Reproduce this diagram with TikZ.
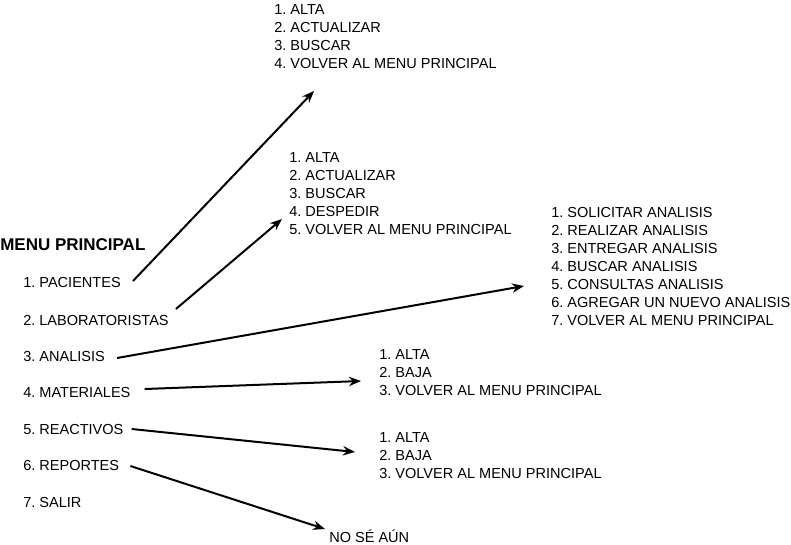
\documentclass[tikz,border=0pt]{standalone}
\usepackage{fontspec}
\setmainfont{Liberation Sans}
\usetikzlibrary{arrows.meta,calc}
\frenchspacing

\begin{document}
\begin{tikzpicture}[
    x=0.75pt, y=-0.75pt,
    opcion/.style={anchor=west,inner sep=0pt,font=\fontsize{10.9}{13.5}\selectfont},
    submenu/.style={opcion,align=left},
    flecha/.style={-{Stealth[length=9pt,width=7pt]},line width=1.5pt}
    ]
    \useasboundingbox (0,0) rectangle (791,545);

    \node (titulo) at (0, 245) [opcion,font=\bfseries\fontsize{12.75}{15}\selectfont] {MENU PRINCIPAL};
    \node (pac) at (23, 282) [opcion] {1. PACIENTES};
    \node (lab) at (23, 320) [opcion] {2. LABORATORISTAS};
    \node (ana) at (23, 356) [opcion] {3. ANALISIS};
    \node (mat) at (23, 392) [opcion] {4. MATERIALES};
    \node (rea) at (23, 429) [opcion] {5. REACTIVOS};
    \node (rep) at (23, 465) [opcion] {6. REPORTES};
    \node (sal) at (23, 502) [opcion] {7. SALIR};

    \node (mpac) at (274, 37) [submenu] {1. ALTA\\2. ACTUALIZAR\\3. BUSCAR\\4. VOLVER AL MENU PRINCIPAL};
    \node (mlab) at (289, 194) [submenu] {1. ALTA\\2. ACTUALIZAR\\3. BUSCAR\\4. DESPEDIR\\5. VOLVER AL MENU PRINCIPAL};
    \node (mana) at (551, 266) [submenu] {1. SOLICITAR ANALISIS\\2. REALIZAR ANALISIS\\3. ENTREGAR ANALISIS\\4. BUSCAR ANALISIS\\5. CONSULTAS ANALISIS\\6. AGREGAR UN NUEVO ANALISIS\\7. VOLVER AL MENU PRINCIPAL};
    \node (mmat) at (379, 373) [submenu] {1. ALTA\\2. BAJA\\3. VOLVER AL MENU PRINCIPAL};
    \node (mrea) at (379, 456) [submenu] {1. ALTA\\2. BAJA\\3. VOLVER AL MENU PRINCIPAL};
    \node (mrep) at (329, 536) [opcion] {NO SÉ AÚN};

    \draw [flecha] ($(pac.east)+(12,-1)$) to ($(mpac.west)+(40,54)$);
    \draw [flecha] ($(lab.east)+(7,-11)$) to ($(mlab.west)+(-7,25)$);
    \draw [flecha] ($(ana.east)+(12,2)$) to ($(mana.west)+(-27,20)$);
    \draw [flecha] ($(mat.east)+(14,-3)$) to ($(mmat.west)+(-18,8)$);
    \draw [flecha] ($(rea.east)+(8,0)$) to ($(mrea.west)+(-24,-4)$);
    \draw [flecha] ($(rep.east)+(11,1)$) to ($(mrep.west)+(-4,-7)$);

  \end{tikzpicture}
\end{document}
